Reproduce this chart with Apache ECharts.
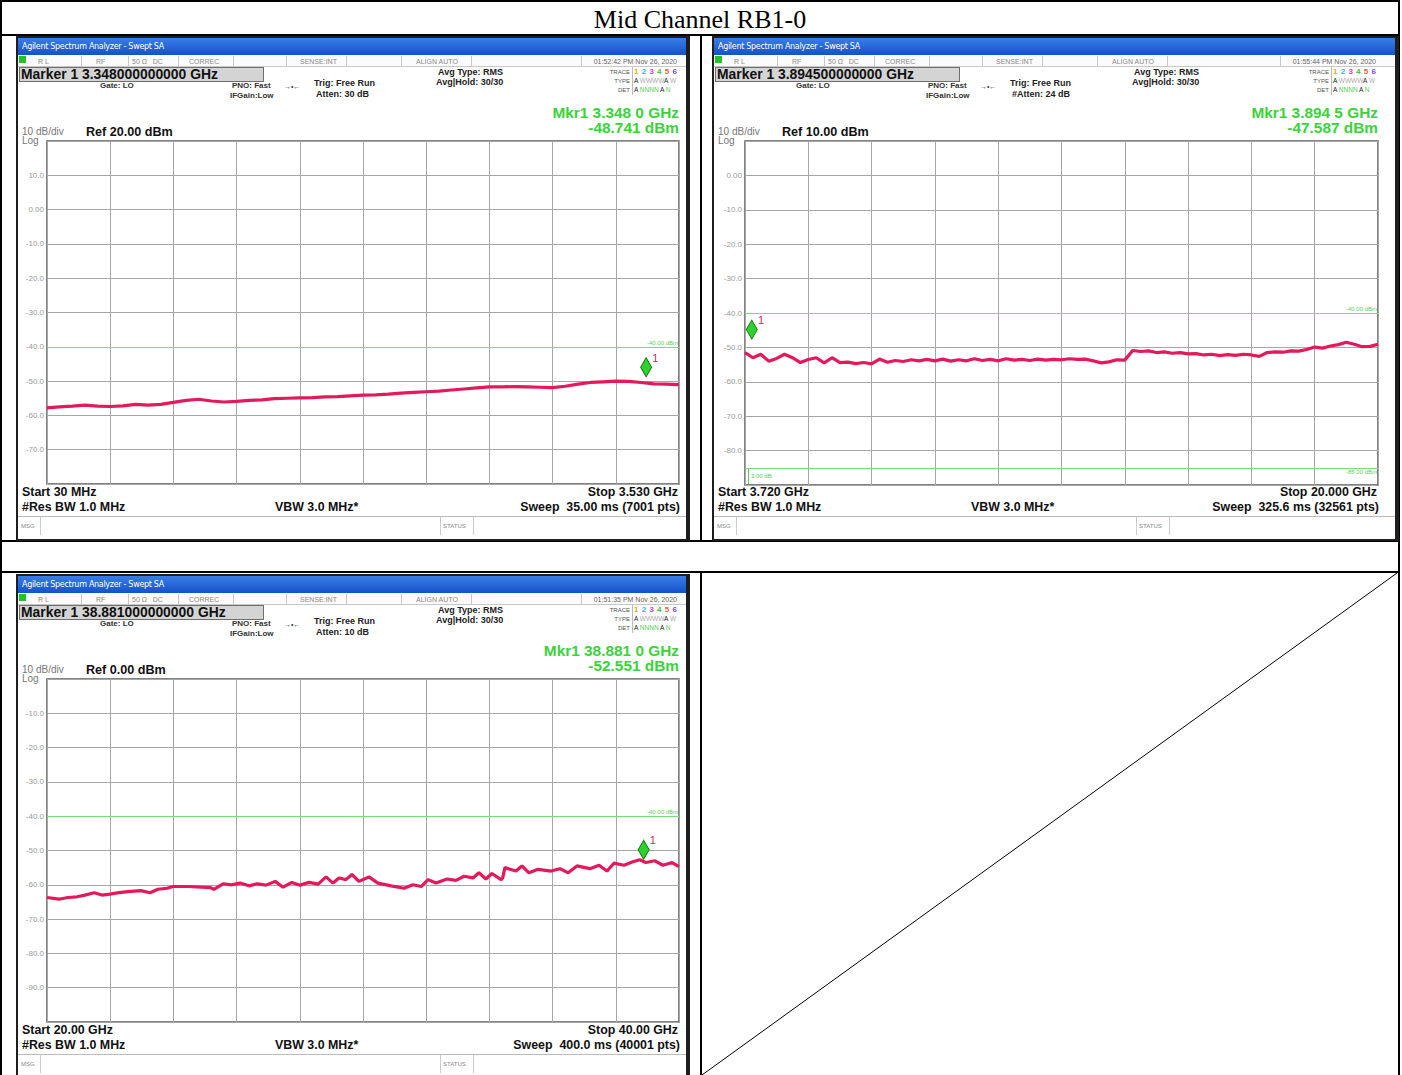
<!DOCTYPE html>
<html><head><meta charset="utf-8">
<script src="https://cdn.jsdelivr.net/npm/echarts@6/dist/echarts.min.js"></script>
<style>
html,body{margin:0;padding:0;width:1402px;height:1075px;overflow:hidden;background:#fff;}
#page{position:relative;width:1402px;height:1075px;overflow:hidden;}
#bg{position:absolute;left:0;top:0;width:1402px;height:1075px;z-index:1;}
#chart{position:absolute;left:0;top:0;width:1402px;height:1075px;z-index:2;}
#over{position:absolute;left:0;top:0;width:1402px;height:1075px;z-index:3;pointer-events:none;}
</style></head>
<body><div id="page"><div id="bg"></div><div id="chart"></div><div id="over"></div></div>
<script>
// ---------- DATA ----------
const pageTitle = 'Mid Channel RB1-0';

// Panel 1: 30 MHz .. 3.530 GHz (MHz), sweep points evenly spaced
const p1Start = 30, p1Stop = 3530;
const p1Level = [-57.8,-57.5,-57.3,-57.0,-57.3,-57.4,-57.2,-56.8,-57.0,-56.8,-56.2,-55.6,-55.3,-55.8,-56.1,-55.9,-55.6,-55.5,-55.1,-55.0,-54.9,-54.8,-54.6,-54.5,-54.3,-54.1,-54.0,-53.8,-53.5,-53.3,-53.1,-52.9,-52.6,-52.3,-52.0,-51.7,-51.7,-51.6,-51.7,-51.8,-51.9,-51.5,-50.9,-50.4,-50.2,-50.0,-50.1,-50.4,-50.8,-50.9,-51.0];
const p1Marker = [3348, -48.741];
const p1Limits = [-40];
const p1YTicks = [-80, 20];

// Panel 2: 3.720 .. 20.000 GHz (GHz)
const p2Start = 3.72, p2Stop = 20.0;
const p2Level = [-51.5,-53.0,-52.0,-54.0,-53.2,-52.0,-53.0,-54.4,-53.5,-53.0,-54.5,-53.0,-54.4,-54.3,-54.7,-54.4,-54.8,-53.4,-54.3,-53.8,-54.1,-53.6,-53.9,-53.5,-53.9,-53.4,-54.0,-53.6,-53.9,-53.3,-53.8,-53.5,-53.9,-53.3,-53.7,-53.5,-53.8,-53.4,-53.7,-53.5,-53.6,-53.3,-53.5,-53.4,-53.9,-54.5,-54.2,-53.6,-53.7,-50.9,-51.2,-51.0,-51.5,-51.3,-51.7,-51.5,-51.9,-51.8,-52.2,-52.0,-52.4,-52.1,-52.3,-52.0,-52.2,-52.6,-51.5,-51.3,-51.4,-51.0,-51.1,-50.6,-49.9,-50.2,-49.6,-49.2,-48.5,-49.1,-49.8,-49.7,-49.1];
const p2Marker = [3.8945, -47.587];
const p2Limits = [-40, -85];
const p2YTicks = [-90, 10];

// Panel 3: 20 .. 40 GHz (GHz)
const p3Freq = [20.00,20.38,20.66,20.95,21.20,21.49,21.74,21.99,22.28,22.56,22.97,23.26,23.51,23.80,23.99,24.46,25.16,25.28,25.57,25.85,26.11,26.39,26.65,26.93,27.22,27.47,27.75,28.01,28.29,28.58,28.83,29.05,29.24,29.46,29.65,29.87,30.19,30.47,30.89,31.30,31.58,31.84,32.06,32.31,32.66,32.94,33.20,33.48,33.67,33.89,34.08,34.37,34.42,34.49,34.84,35.03,35.25,35.54,35.95,36.23,36.49,36.77,37.18,37.47,37.72,37.94,38.26,38.54,38.76,38.95,39.24,39.49,39.78,40.00];
const p3Level = [-63.7,-64.2,-63.7,-63.5,-63.0,-62.3,-63.0,-62.7,-62.3,-62.0,-61.7,-62.3,-61.3,-61.0,-60.5,-60.5,-60.8,-61.3,-59.7,-60.0,-59.5,-60.3,-59.7,-60.1,-59.0,-60.7,-59.3,-60.1,-59.3,-59.8,-57.7,-59.5,-58.0,-58.5,-57.0,-59.0,-57.7,-59.5,-60.3,-61.0,-60.0,-60.5,-58.5,-59.5,-58.3,-58.7,-57.5,-58.0,-56.5,-58.3,-56.7,-58.5,-58.0,-55.0,-56.0,-54.5,-56.5,-55.5,-56.0,-55.3,-56.5,-54.5,-55.3,-54.3,-56.0,-53.7,-54.3,-53.3,-52.7,-53.5,-53.0,-54.3,-53.5,-54.7];
const p3Marker = [38.881, -52.551];
const p3Limits = [-40];
const p3YTicks = [-100, 0];

const shotTexts = [
  {marker:'Marker 1 3.348000000000 GHz', time:'01:52:42 PM Nov 26, 2020', atten:'Atten: 30 dB', mkrF:'Mkr1 3.348 0 GHz', mkrV:'-48.741 dBm', ref:'Ref 20.00 dBm', start:'Start 30 MHz', stop:'Stop 3.530 GHz', sweep:'Sweep&nbsp;&nbsp;35.00 ms (7001 pts)'},
  {marker:'Marker 1 3.894500000000 GHz', time:'01:55:44 PM Nov 26, 2020', atten:'#Atten: 24 dB', mkrF:'Mkr1 3.894 5 GHz', mkrV:'-47.587 dBm', ref:'Ref 10.00 dBm', start:'Start 3.720 GHz', stop:'Stop 20.000 GHz', sweep:'Sweep&nbsp;&nbsp;325.6 ms (32561 pts)'},
  {marker:'Marker 1 38.881000000000 GHz', time:'01:51:35 PM Nov 26, 2020', atten:'Atten: 10 dB', mkrF:'Mkr1 38.881 0 GHz', mkrV:'-52.551 dBm', ref:'Ref 0.00 dBm', start:'Start 20.00 GHz', stop:'Stop 40.00 GHz', sweep:'Sweep&nbsp;&nbsp;400.0 ms (40001 pts)'}
];

// ---------- LAYOUT ----------
const shots = [
  {ox:16, oy:36, w:674, h:505, plotR:679},
  {ox:712, oy:36, w:687, h:505, plotR:1378},
  {ox:16, oy:574, w:674, h:510, plotR:679}
];
const grids = [
  {left:47, top:141, width:632, height:343},
  {left:745, top:141, width:633, height:344},
  {left:47, top:679, width:632, height:343}
];

const bg = document.getElementById('bg'), over = document.getElementById('over');
function el(parent, css, html){ const d=document.createElement('div'); d.style.cssText='position:absolute;'+css; if(html!==undefined) d.innerHTML=html; parent.appendChild(d); return d; }
function T(parent,x,y,s,css,align){
  const d = el(parent, `left:${x}px;top:${y}px;white-space:nowrap;line-height:1;font-family:"Liberation Sans",Arial,sans-serif;${css||''}`, s);
  d.style.transform = align==='r' ? 'translate(-100%,-50%)' : align==='c' ? 'translate(-50%,-50%)' : 'translateY(-50%)';
  return d;
}

// table
el(bg,'left:0;top:0;width:1400px;height:1100px;border:2px solid #000;box-sizing:border-box;');
el(bg,'left:0;top:34px;width:1400px;height:2px;background:#000;');
el(bg,'left:0;top:540px;width:1400px;height:2px;background:#000;');
el(bg,'left:0;top:571px;width:1400px;height:2px;background:#000;');
el(bg,'left:700px;top:35px;width:2px;height:506px;background:#000;');
el(bg,'left:700px;top:572px;width:2px;height:503px;background:#000;');
el(bg,'left:0;top:0;width:1402px;height:1075px;','<svg width="1402" height="1075" style="position:absolute;left:0;top:0"><line x1="702" y1="1075" x2="1397" y2="573" stroke="#000" stroke-width="1"/></svg>');
T(bg,700,20,pageTitle,'font-family:"Liberation Serif","Times New Roman",serif;font-size:26px;color:#000;','c');

const small = 'font-size:7px;color:#8a8a8a;';
const bold9 = 'font-size:9px;font-weight:bold;color:#222;';
const big = 'font-size:12.4px;font-weight:bold;color:#111;';
shots.forEach((s,i)=>{
  const t = shotTexts[i], ox=s.ox, oy=s.oy, R=s.plotR;
  el(bg,`left:${ox}px;top:${oy}px;width:${s.w}px;height:${s.h}px;border:2px solid #1e1e1e;border-right-width:4px;box-sizing:border-box;background:#fff;`);
  el(bg,`left:${ox+2}px;top:${oy+2}px;width:${s.w-6}px;height:17px;background:linear-gradient(#3a7ee8,#1352c9);`);
  T(bg,ox+6,oy+11,'Agilent Spectrum Analyzer - Swept SA','color:#fff;font-size:8px;font-family:"DejaVu Sans",sans-serif;letter-spacing:-0.3px;');
  el(bg,`left:${ox+2}px;top:${oy+19}px;width:${s.w-6}px;height:11px;border-bottom:1px solid #c8c8c8;background:#fbfbfb;`);
  el(bg,`left:${ox+3}px;top:${oy+20}px;width:7px;height:7px;background:#22c322;`);
  [65,112,162,217,270,330,385,455].forEach(dx=>el(bg,`left:${ox+dx}px;top:${oy+20}px;width:1px;height:10px;background:#c8c8c8;`));
  el(bg,`left:${R-98}px;top:${oy+20}px;width:1px;height:10px;background:#c8c8c8;`);
  T(bg,ox+22,oy+25,'R L',small); T(bg,ox+80,oy+25,'RF',small); T(bg,ox+116,oy+25,'50 Ω&nbsp;&nbsp;&nbsp;DC',small);
  T(bg,ox+173,oy+25,'CORREC',small); T(bg,ox+284,oy+25,'SENSE:INT',small); T(bg,ox+400,oy+25,'ALIGN AUTO',small);
  T(bg,R-2,oy+25,t.time,'font-size:7px;color:#666;','r');
  el(bg,`left:${ox+3}px;top:${oy+31}px;width:245px;height:15px;background:#d4d4d4;border:1px solid #6e6e6e;box-sizing:border-box;`);
  T(bg,ox+5,oy+38.5,t.marker,'font-size:13.9px;font-weight:bold;color:#111;');
  T(bg,ox+84,oy+50,'Gate: LO','font-size:8px;font-weight:bold;color:#333;');
  T(bg,ox+216,oy+50,'PNO: Fast','font-size:8px;font-weight:bold;color:#333;');
  T(bg,ox+214,oy+60,'IFGain:Low','font-size:8px;font-weight:bold;color:#333;');
  T(bg,ox+268,oy+50,'→•←','font-size:7px;color:#333;');
  T(bg,ox+298,oy+47,'Trig: Free Run',bold9);
  T(bg,ox+300,oy+58,t.atten,bold9);
  T(bg,ox+422,oy+36,'Avg Type: RMS',bold9);
  T(bg,ox+420,oy+46,'Avg|Hold: 30/30',bold9);
  T(bg,R-49,oy+36,'TRACE','font-size:6px;color:#555;','r');
  T(bg,R-49,oy+45,'TYPE','font-size:6px;color:#555;','r');
  T(bg,R-49,oy+54,'DET','font-size:6px;color:#555;','r');
  el(bg,`left:${R-47}px;top:${oy+31}px;width:49px;height:28px;border-left:1px solid #bbb;`);
  T(bg,R-45,oy+36,'<span style="color:#f0a800">1</span> <span style="color:#2fb8e8">2</span> <span style="color:#e040d0">3</span> <span style="color:#40c040">4</span> <span style="color:#f06040">5</span> <span style="color:#7050f0">6</span>','font-size:8px;font-weight:bold;letter-spacing:0.5px;');
  T(bg,R-45,oy+45,'<span style="color:#222">A</span> <span style="color:#aaa">WWWW</span><span style="color:#222">A</span> <span style="color:#aaa">W</span>','font-size:6.5px;');
  T(bg,R-45,oy+54,'<span style="color:#222">A</span> <span style="color:#5c5">NNNN</span> <span style="color:#222">A</span> <span style="color:#5c5">N</span>','font-size:6.5px;');
  T(bg,R,oy+77,t.mkrF,'font-size:15.4px;font-weight:bold;color:#3ad33a;','r');
  T(bg,R,oy+92,t.mkrV,'font-size:15.4px;font-weight:bold;color:#3ad33a;','r');
  T(bg,ox+6,oy+96,'10 dB/div','font-size:10px;color:#777;');
  T(bg,ox+6,oy+105,'Log','font-size:10px;color:#777;');
  T(bg,ox+70,oy+96,t.ref,'font-size:12.6px;font-weight:bold;color:#111;');
  T(bg,ox+6,oy+456,t.start,big);
  T(bg,ox+6,oy+471,'#Res BW 1.0 MHz',big);
  T(bg,ox+259,oy+471,'VBW 3.0 MHz*',big);
  T(bg,R-1,oy+456,t.stop,big,'r');
  T(bg,R+1,oy+471,t.sweep,big,'r');
  el(bg,`left:${ox+2}px;top:${oy+480}px;width:${s.w-6}px;height:1px;background:#bbb;`);
  el(bg,`left:${ox+24}px;top:${oy+481}px;width:1px;height:18px;background:#ccc;`);
  el(bg,`left:${ox+424}px;top:${oy+481}px;width:1px;height:18px;background:#ccc;`);
  el(bg,`left:${ox+457}px;top:${oy+481}px;width:1px;height:18px;background:#ccc;`);
  T(bg,ox+5,oy+490,'MSG','font-size:6px;color:#888;');
  T(bg,ox+427,oy+490,'STATUS','font-size:6px;color:#888;');
});
// panel 2 display-line delta annotation
el(over,'left:748px;top:469px;width:1px;height:15px;background:#5c5;');
T(over,751,476,'3.00 dB','font-size:6px;color:#5c5;');

// ---------- CHART ----------
const TRACE = '#e3195b', LIMIT = '#78dd78';
const p1Freq = p1Level.map((_,i)=>p1Start + i*(p1Stop-p1Start)/(p1Level.length-1));
const p2Freq = p2Level.map((_,i)=>p2Start + i*(p2Stop-p2Start)/(p2Level.length-1));
const panels = [
  {freq:p1Freq, level:p1Level, xmin:p1Start, xmax:p1Stop, y:p1YTicks, limits:p1Limits, mkr:p1Marker},
  {freq:p2Freq, level:p2Level, xmin:p2Start, xmax:p2Stop, y:p2YTicks, limits:p2Limits, mkr:p2Marker},
  {freq:p3Freq, level:p3Level, xmin:20, xmax:40, y:p3YTicks, limits:p3Limits, mkr:p3Marker}
];
const chart = echarts.init(document.getElementById('chart'), null, {renderer:'svg', width:1402, height:1075});
const option = {animation:false, grid:[], xAxis:[], yAxis:[], series:[]};
panels.forEach((p,i)=>{
  option.grid.push(Object.assign({show:true, backgroundColor:'#fff', borderColor:'#5a5a5a', borderWidth:1.5}, grids[i]));
  option.xAxis.push({type:'value', gridIndex:i, min:p.xmin, max:p.xmax, show:false});
  option.xAxis.push({type:'value', gridIndex:i, min:0, max:10, interval:1, axisLine:{show:false}, axisTick:{show:false}, axisLabel:{show:false}, splitLine:{show:true, lineStyle:{color:'#a6a6a6', width:1}}});
  option.yAxis.push({type:'value', gridIndex:i, min:p.y[0], max:p.y[1], interval:10, axisLine:{show:false}, axisTick:{show:false},
    splitLine:{show:true, lineStyle:{color:'#a6a6a6', width:1}},
    axisLabel:{showMinLabel:false, showMaxLabel:false, color:'#9a9a9a', fontSize:8, margin:3, fontFamily:'Liberation Sans',
      formatter:v=> v===0 ? '0.00' : v.toFixed(1)}});
  option.series.push({type:'line', xAxisIndex:i*2, yAxisIndex:i, showSymbol:false, symbol:'none',
    data:p.freq.map((f,k)=>[f,p.level[k]]),
    lineStyle:{color:TRACE, width:3.2}, itemStyle:{color:TRACE}, z:5,
    markLine:{silent:true, symbol:'none',
      data:p.limits.map((v,k)=>({yAxis:v, label:{show:true, formatter:v.toFixed(2)+' dBm', position:k===0?'insideEndTop':'insideEndBottom', color:'#5ccf5c', fontSize:6, distance:1}})),
      lineStyle:{color:LIMIT, type:'solid', width:1.2}},
    markPoint:{silent:true, data:[{coord:p.mkr}], symbol:'diamond', symbolSize:[11,19], symbolOffset:[0,'-50%'],
      itemStyle:{color:'#2fd12f', borderColor:'#137a13', borderWidth:1},
      label:{show:true, formatter:'1', position:[12,-5], color:TRACE, fontSize:11, fontFamily:'Liberation Sans'}}
  });
});
chart.setOption(option);
</script></body></html>
